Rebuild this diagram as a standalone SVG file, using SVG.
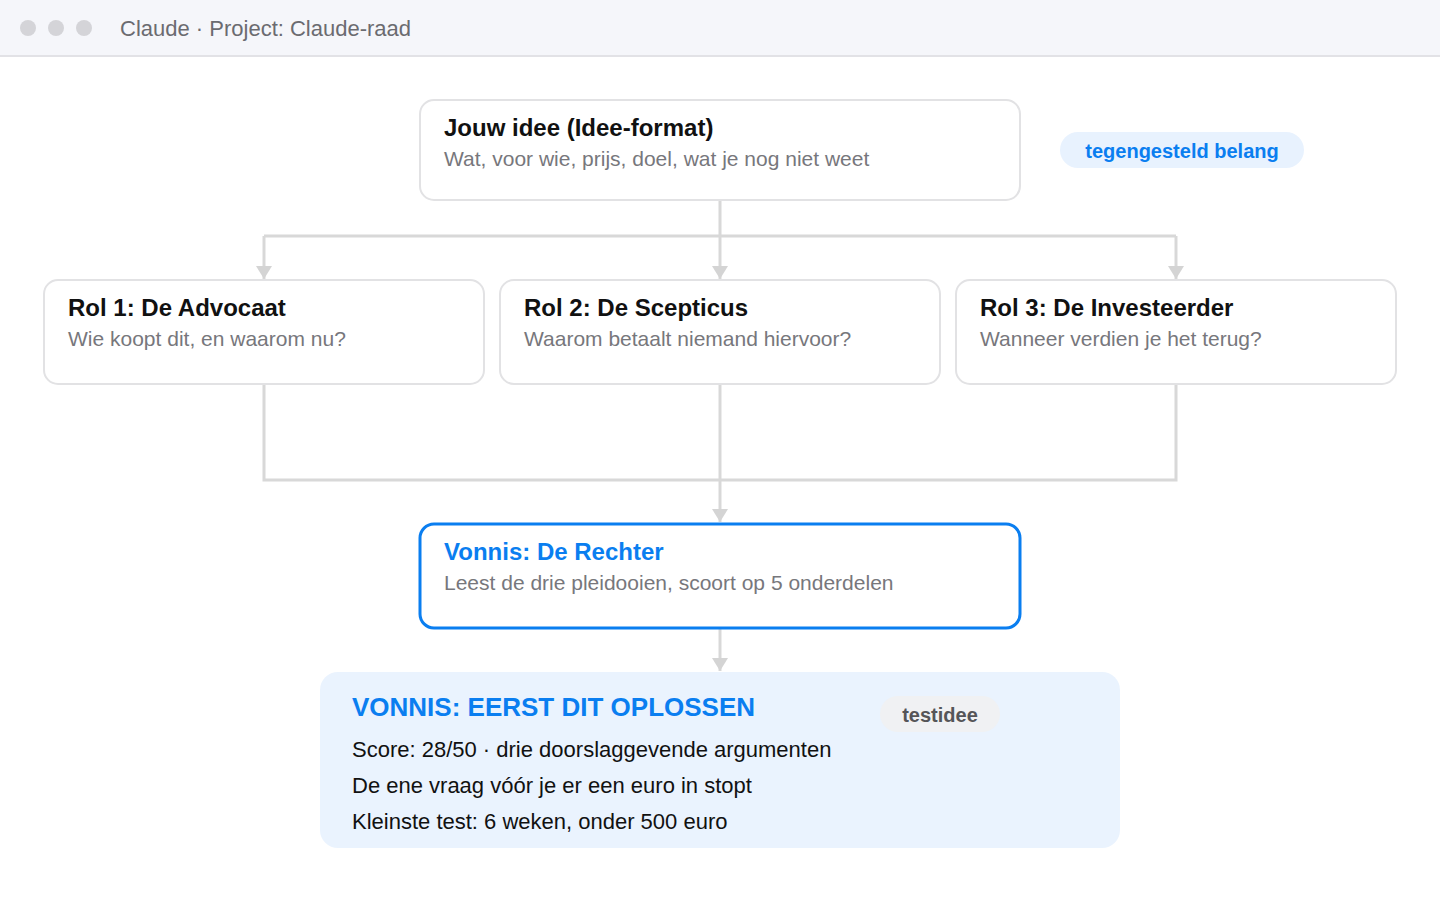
<svg xmlns="http://www.w3.org/2000/svg" width="1440" height="900" viewBox="0 0 1440 900">
<defs>
<style>
text{font-family:"Liberation Sans",Arial,sans-serif}
.box{fill:#fff;stroke:#e2e2e4;stroke-width:2}
.t{font-size:24px;font-weight:bold;fill:#111}
.s{font-size:21px;fill:#77777c}
.c{fill:none;stroke:#d8d8d8;stroke-width:3}
.l{font-size:22px;fill:#111}
</style>
<marker id="ah" markerWidth="13" markerHeight="16" refX="13" refY="8" orient="auto" markerUnits="userSpaceOnUse" viewBox="0 0 13 16">
<path d="M0,0 L13,8 L0,16 Z" fill="#d4d4d4"/>
</marker>
</defs>
<rect width="1440" height="900" fill="#fff"/>
<g id="titlebar">
<rect x="0" y="0" width="1440" height="55" fill="#f5f6fa"/>
<rect x="0" y="55" width="1440" height="2" fill="#e2e2e6"/>
<circle cx="28" cy="28" r="8" fill="#d4d4d8"/>
<circle cx="56" cy="28" r="8" fill="#d4d4d8"/>
<circle cx="84" cy="28" r="8" fill="#d4d4d8"/>
<text x="120" y="36" font-size="22" fill="#6b6b70">Claude · Project: Claude-raad</text>
</g>
<g id="connectors">
<path class="c" d="M720,200 V236 M264,236 H1176"/>
<path class="c" d="M264,236 V279" marker-end="url(#ah)"/>
<path class="c" d="M720,236 V279" marker-end="url(#ah)"/>
<path class="c" d="M1176,236 V279" marker-end="url(#ah)"/>
<path class="c" d="M264,384 V480 H1176 V384"/>
<path class="c" d="M720,384 V522" marker-end="url(#ah)"/>
<path class="c" d="M720,628 V671" marker-end="url(#ah)"/>
</g>
<g id="idee">
<rect class="box" x="420" y="100" width="600" height="100" rx="14"/>
<text class="t" x="444" y="136">Jouw idee (Idee-format)</text>
<text class="s" x="444" y="166">Wat, voor wie, prijs, doel, wat je nog niet weet</text>
</g>
<g id="pill-belang">
<rect x="1060" y="132" width="244" height="36" rx="18" fill="#e8f2fe"/>
<text x="1182" y="158" font-size="20" font-weight="bold" fill="#0a7ef0" text-anchor="middle">tegengesteld belang</text>
</g>
<g id="rol1">
<rect class="box" x="44" y="280" width="440" height="104" rx="14"/>
<text class="t" x="68" y="316">Rol 1: De Advocaat</text>
<text class="s" x="68" y="346">Wie koopt dit, en waarom nu?</text>
</g>
<g id="rol2">
<rect class="box" x="500" y="280" width="440" height="104" rx="14"/>
<text class="t" x="524" y="316">Rol 2: De Scepticus</text>
<text class="s" x="524" y="346">Waarom betaalt niemand hiervoor?</text>
</g>
<g id="rol3">
<rect class="box" x="956" y="280" width="440" height="104" rx="14"/>
<text class="t" x="980" y="316">Rol 3: De Investeerder</text>
<text class="s" x="980" y="346">Wanneer verdien je het terug?</text>
</g>
<g id="rechter">
<rect x="420" y="524" width="600" height="104" rx="14" fill="#fff" stroke="#0a7ef0" stroke-width="3"/>
<text class="t" x="444" y="560" style="fill:#0a7ef0">Vonnis: De Rechter</text>
<text class="s" x="444" y="590">Leest de drie pleidooien, scoort op 5 onderdelen</text>
</g>
<g id="vonnis">
<rect x="320" y="672" width="800" height="176" rx="18" fill="#eaf3fe"/>
<text x="352" y="716" font-size="26" font-weight="bold" fill="#0a7ef0">VONNIS: EERST DIT OPLOSSEN</text>
<text class="l" x="352" y="757">Score: 28/50 · drie doorslaggevende argumenten</text>
<text class="l" x="352" y="793">De ene vraag vóór je er een euro in stopt</text>
<text class="l" x="352" y="829">Kleinste test: 6 weken, onder 500 euro</text>
<rect x="880" y="696" width="120" height="36" rx="18" fill="#f0f1f3"/>
<text x="940" y="722" font-size="20" font-weight="bold" fill="#555558" text-anchor="middle">testidee</text>
</g>
</svg>
